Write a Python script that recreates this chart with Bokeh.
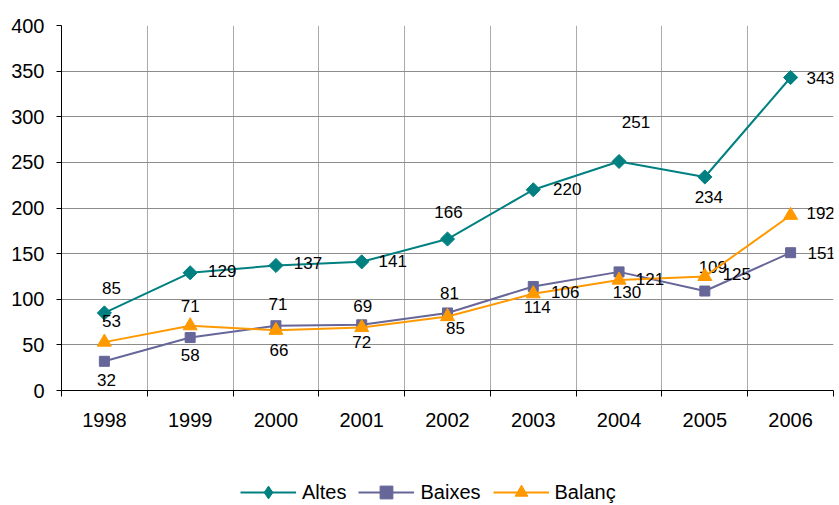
from bokeh.plotting import figure
from bokeh.models import FixedTicker, ColumnDataSource, Legend, LegendItem, Range1d
from bokeh.layouts import column
from bokeh.core.properties import value
from bokeh.embed import file_html
from bokeh.resources import INLINE

# ---- data ----
years = ["1998", "1999", "2000", "2001", "2002", "2003", "2004", "2005", "2006"]
altes = [85, 129, 137, 141, 166, 220, 251, 234, 343]
baixes = [32, 58, 71, 72, 85, 114, 130, 109, 151]
balanc = [53, 71, 66, 69, 81, 106, 121, 125, 192]
y_ticks = [0, 50, 100, 150, 200, 250, 300, 350, 400]

# ---- label offsets (screen px) ----
altes_dx = [7, 32, 32, 31, 1, 34, 17, 4, 30]
altes_dy = [-25, -2, -2, -1, -27, -1, -39, 20, 0]
baixes_dx = [2, 0, 2, 0, 8, 4, 8, 8, 31]
baixes_dy = [19, 17, -22, 17, 15, 21, 20, -24, 0]
balanc_dx = [7, 0, 3, 1, 2, 32, 31, 32, 30]
balanc_dy = [-21, -20, 20, -22, -24, -2, -1, -2, -2]

FONT = "Liberation Sans"
xs = [i + 0.5 for i in range(len(years))]

p = figure(width=836, height=441, output_backend="svg", toolbar_location=None,
           x_range=Range1d(0, len(years)), y_range=Range1d(0, 400),
           min_border_left=61, min_border_right=3, min_border_top=25,
           min_border_bottom=51)
p.outline_line_color = None
p.background_fill_color = "white"
p.border_fill_color = "white"

# axes
p.yaxis.ticker = FixedTicker(ticks=y_ticks)
p.yaxis.major_tick_out = 5
p.yaxis.major_tick_in = 0
p.yaxis.minor_tick_out = 0
p.yaxis.minor_tick_in = 0
p.yaxis.major_label_standoff = 12
p.yaxis.major_label_text_font = FONT
p.yaxis.major_label_text_font_size = "20px"
p.yaxis.major_label_text_color = "black"
p.yaxis.axis_line_color = "black"

p.xaxis.ticker = FixedTicker(ticks=xs, minor_ticks=list(range(len(years) + 1)))
p.xaxis.major_label_overrides = {x: y for x, y in zip(xs, years)}
p.xaxis.major_tick_out = 0
p.xaxis.major_tick_in = 0
p.xaxis.minor_tick_out = 6
p.xaxis.minor_tick_in = 0
p.xaxis.minor_tick_line_color = "black"
p.xaxis.major_label_standoff = 16
p.xaxis.major_label_text_font = FONT
p.xaxis.major_label_text_font_size = "20px"
p.xaxis.major_label_text_color = "black"
p.xaxis.axis_line_color = "black"

p.ygrid.ticker = FixedTicker(ticks=y_ticks)
p.ygrid.grid_line_color = "#8c8c8c"
p.xgrid.ticker = FixedTicker(ticks=list(range(len(years) + 1)))
p.xgrid.grid_line_color = "#ababab"

# name, values, colour, chart marker, size, angle, legend marker
series = [
    ("Altes", altes, "#008080", "square", 10, 0.785398, "diamond", altes_dx, altes_dy),
    ("Baixes", baixes, "#666699", "square", 10, 0.0, "square", baixes_dx, baixes_dy),
    ("Balanç", balanc, "#FF9900", "triangle", 14, 0.0, "triangle", balanc_dx, balanc_dy),
]

# legend lives in its own strip below the chart; its renderers use the same
# data but the strip's y-range keeps them off-canvas, so only swatches show
lf = figure(width=836, height=64, output_backend="svg", toolbar_location=None,
            x_range=Range1d(0, len(years)), y_range=Range1d(-2000, -1000),
            x_axis_location=None, y_axis_location=None,
            min_border=0, min_border_left=0, min_border_right=0,
            min_border_top=0, min_border_bottom=0)
lf.outline_line_color = None
lf.xgrid.visible = False
lf.ygrid.visible = False

items = []
for name, vals, col, marker, size, ang, lmarker, dx, dy in series:
    src = ColumnDataSource(dict(x=xs, y=vals, t=[str(v) for v in vals], dx=dx, dy=dy))
    p.line("x", "y", source=src, line_color=col, line_width=2)
    p.scatter("x", "y", source=src, marker=marker, size=size, angle=ang,
              fill_color=col, line_color=col)
    p.text("x", "y", text="t", source=src, x_offset="dx", y_offset="dy",
           text_font=value(FONT), text_font_size="17px", text_color="black",
           text_align="center", text_baseline="middle")
    l2 = lf.line("x", "y", source=src, line_color=col, line_width=2)
    s2 = lf.scatter("x", "y", source=src, marker=lmarker, size=size,
                    fill_color=col, line_color=col)
    items.append(LegendItem(label=name, renderers=[l2, s2]))

legend = Legend(items=items, orientation="horizontal", location=(179, -3),
                glyph_width=56, glyph_height=32, label_height=20,
                label_standoff=6, spacing=12,
                label_text_font=FONT, label_text_font_size="20px",
                label_text_color="black",
                border_line_color=None, background_fill_alpha=0,
                margin=0, padding=0)
lf.add_layout(legend, "center")

layout = column(p, lf, spacing=0)
open("out.html", "w").write(file_html(layout, INLINE))
